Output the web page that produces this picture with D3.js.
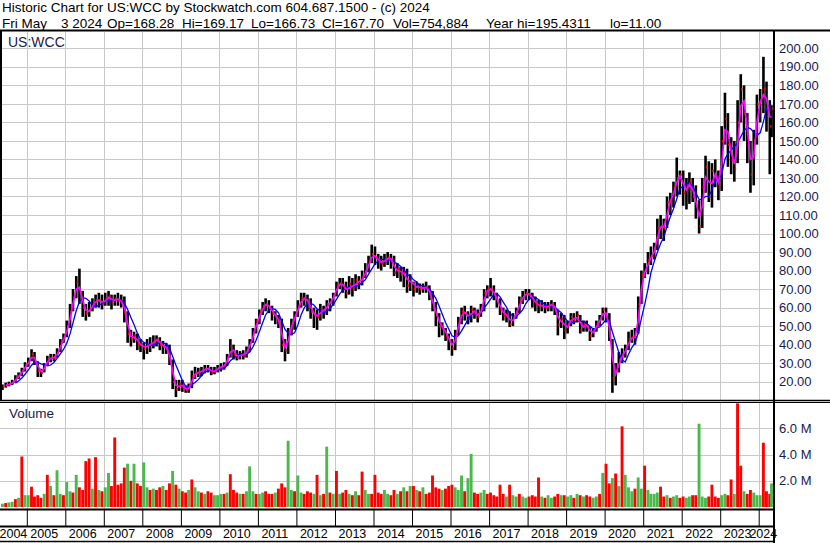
<!DOCTYPE html>
<html>
<head>
<meta charset="utf-8">
<script src="https://cdn.jsdelivr.net/npm/d3@7"></script>
<style>
body { margin: 0; background: #fff; }
svg text { font-family: "Liberation Sans", Arial, sans-serif; }
</style>
</head>
<body>
<div id="chart"></div>
<script>
// monthly bars, May 2004 .. May 2024 (one row per year)
var startYear = 2004, startMonth = 4;

var closes = [
  [17.5, 18.2, 18.8, 19.5, 22.0, 23.5, 26.0, 29.0],
  [31, 35, 31, 26, 25, 29, 32, 33, 33, 36, 41, 44],
  [50, 58, 66, 74, 68, 60, 57, 59, 62, 64, 64, 62],
  [65, 66, 63, 65, 64, 63, 57, 46, 43, 45, 40, 40],
  [38, 40, 40, 42, 43, 40, 39, 38, 31, 20, 16, 19],
  [17, 15.5, 17, 23, 25, 25, 26, 27, 27, 25, 26, 27.5],
  [28, 29, 33, 39, 35, 33, 35, 34, 37, 41, 47, 53],
  [57, 61, 62, 60, 57, 55, 52, 40, 37, 47, 52, 56],
  [61, 65, 65, 63, 58, 56, 55, 59, 58, 62, 63, 67],
  [72, 73, 72, 68, 73, 70, 75, 73, 77, 80, 85, 89],
  [87, 85, 84, 86, 87, 86, 79, 81, 78, 79, 72, 76],
  [70, 72, 70, 71, 71, 67, 60, 56, 50, 49, 45, 42],
  [38, 46, 53, 58, 57, 54, 59, 57, 55, 60, 68, 70],
  [70, 67, 63, 59, 56, 56, 51, 55, 58, 64, 66, 68],
  [67, 64, 62, 61, 61, 60, 61, 62, 59, 51, 54, 48],
  [51, 55, 53, 56, 48, 51, 50, 45, 48, 51, 54, 59],
  [55, 44, 22, 26, 32, 35, 38, 43, 44, 44, 62, 78],
  [80, 86, 88, 92, 103, 104, 103, 117, 118, 125, 130, 132],
  [122, 125, 128, 120, 115, 104, 125, 136, 120, 134, 130, 125],
  [150, 162, 148, 140, 135, 160, 178, 165, 148, 132, 150, 170],
  [172, 178, 168, 158, 167.7]
].flat();

var highs = [
  [18.5, 19.5, 20.0, 21.0, 23.5, 25.0, 27.5, 30.5],
  [33, 37.5, 36, 31, 27, 30, 34, 35, 35, 38, 43, 46],
  [53, 62, 70, 77, 81, 69, 62, 63, 65, 67, 68, 67],
  [68, 69, 67, 67, 68, 67, 66, 58, 48, 47, 46, 43],
  [41, 43, 44, 45, 45, 44, 42, 41, 40, 32, 21, 21],
  [21, 18, 19, 26, 28, 27.5, 28, 29, 29, 28, 28, 29],
  [30, 30.5, 35, 43, 40, 37, 36.5, 37, 39, 43, 49, 54],
  [59, 63, 65, 64, 61, 58, 56, 54, 43, 49, 54, 58],
  [64, 68, 68, 67, 65, 60, 59, 62, 61, 64, 65, 68],
  [74, 76, 76, 74, 77, 76, 78, 77, 80, 84, 88, 94],
  [93, 89, 88, 89, 90, 89, 88, 84, 82, 82, 81, 78],
  [74, 74, 73, 73, 74, 72, 69, 63, 57, 52, 49, 46],
  [43, 48, 55, 60, 61, 58, 61, 60, 59, 62, 70, 72],
  [76, 72, 68, 65, 60, 59, 58, 57, 60, 66, 69, 70],
  [70, 68, 66, 64, 64, 63, 63, 64, 63, 59, 57, 56],
  [53, 57, 57, 58, 56, 53, 53, 50, 49, 53, 56, 60],
  [60, 57, 43, 30, 36, 38, 40, 47, 48, 49, 66, 80],
  [84, 90, 93, 95, 108, 110, 108, 120, 122, 128, 141, 134],
  [134, 130, 133, 130, 126, 118, 130, 142, 139, 138, 140, 134],
  [158, 176, 165, 152, 150, 172, 186, 180, 165, 150, 156, 175],
  [178, 195.4, 182, 172, 169.2]
].flat();

var lows = [
  [15.5, 16.8, 17.5, 18.2, 19.5, 21.5, 23.0, 25.5],
  [28, 31, 29, 22.5, 22.5, 25, 29, 30.5, 31, 33, 36, 41],
  [44, 49, 58, 65, 62, 55, 53, 55, 58, 60, 60, 59],
  [61, 61, 59, 61, 61, 60, 52, 41, 39, 41, 37, 36],
  [32, 35, 36, 38, 39, 37, 35, 35, 29, 16, 11.7, 15],
  [14.5, 14, 14, 16.5, 21.5, 22.5, 23, 24.5, 25, 23.5, 24, 25],
  [25.5, 26.5, 28.5, 33, 32, 31.5, 32, 32, 33, 36, 41, 46],
  [51, 56, 58, 57, 53, 51, 49, 36, 31, 35, 45, 48],
  [55, 60, 61, 58, 54, 49, 48, 53, 54, 56, 58, 61],
  [66, 70, 68, 65, 67, 66, 69, 70, 72, 76, 79, 84],
  [83, 81, 80, 82, 83, 81, 77, 76, 74, 71, 68, 69],
  [66, 68, 67, 68, 68, 64, 58, 50, 44, 45, 42, 37],
  [34, 37, 45, 51, 53, 51, 52, 54, 52, 55, 58, 65],
  [66, 64, 60, 56, 53, 52, 49.5, 50, 54, 57, 62, 64],
  [64, 60, 58, 57, 58, 57, 58, 58, 56, 45, 49, 43],
  [46, 50, 51, 52, 46, 47, 47, 42, 44, 47, 50, 53],
  [52, 42, 14, 18, 25, 30, 33, 37, 41, 40, 46, 62],
  [76, 78, 83, 86, 91, 97, 96, 103, 110, 114, 120, 121],
  [115, 113, 116, 117, 108, 100, 103, 122, 117, 114, 125, 118],
  [123, 148, 136, 132, 128, 138, 160, 150, 138, 122, 126, 148],
  [160, 165, 155, 132, 152]
].flat();

// volume in millions
var volumes = [
  [0.25, 0.3, 0.35, 0.4, 0.6, 0.7, 3.85, 0.9],
  [0.9, 1.55, 0.8, 0.9, 0.7, 1.0, 2.45, 1.6, 0.9, 2.8, 1.0, 0.9],
  [1.9, 1.2, 1.1, 2.45, 1.5, 1.3, 3.5, 3.7, 1.4, 3.8, 1.3, 1.2],
  [1.5, 2.6, 1.6, 5.3, 1.7, 1.8, 3.0, 3.3, 2.0, 3.3, 1.8, 1.6],
  [3.4, 1.5, 1.3, 1.4, 1.3, 1.5, 1.6, 1.3, 1.8, 2.75, 1.7, 1.4],
  [1.2, 1.1, 1.3, 2.1, 1.5, 1.2, 1.1, 1.0, 1.2, 1.1, 0.9, 0.9],
  [1.0, 1.0, 1.1, 2.5, 1.3, 1.1, 1.0, 1.0, 1.2, 3.1, 1.2, 1.0],
  [1.0, 1.1, 1.2, 1.0, 1.0, 1.1, 1.4, 1.8, 1.5, 5.05, 1.3, 1.2],
  [2.4, 1.1, 1.0, 1.2, 1.1, 1.0, 2.45, 0.9, 1.0, 4.6, 1.1, 1.0],
  [2.75, 1.0, 1.1, 1.3, 1.0, 0.9, 1.2, 0.9, 2.7, 1.3, 1.0, 1.0],
  [2.45, 1.1, 1.0, 1.3, 1.0, 0.9, 1.3, 1.0, 1.2, 1.5, 1.2, 1.6],
  [1.6, 1.3, 1.2, 1.5, 1.0, 1.1, 2.4, 1.5, 1.4, 1.3, 1.4, 1.6],
  [1.7, 1.5, 1.3, 2.4, 1.2, 2.2, 4.05, 1.1, 1.0, 1.1, 1.3, 1.0],
  [1.1, 0.9, 0.8, 1.7, 1.0, 0.8, 1.7, 0.9, 0.8, 1.0, 0.8, 0.7],
  [0.8, 0.9, 0.8, 2.25, 0.8, 0.7, 0.9, 0.7, 0.8, 1.0, 0.9, 0.9],
  [0.8, 0.9, 0.7, 1.0, 0.9, 0.8, 0.9, 0.8, 0.7, 0.8, 1.0, 2.6],
  [3.3, 1.8, 2.2, 2.55, 1.6, 6.15, 2.45, 1.5, 1.2, 1.4, 2.25, 1.4],
  [3.15, 1.3, 1.0, 1.0, 1.1, 1.55, 0.8, 0.9, 0.7, 0.8, 0.9, 0.7],
  [0.8, 0.7, 0.8, 0.9, 0.9, 6.35, 0.8, 0.7, 0.8, 1.7, 0.8, 0.7],
  [0.9, 1.0, 0.9, 2.1, 1.0, 7.9, 3.15, 1.2, 1.0, 1.3, 1.1, 0.9],
  [0.9, 4.9, 1.2, 1.0, 1.8]
].flat();

// g = up (green), r = down (red)
var volSide = [
  "grggrgrg", "grrrrgrgrggr", "ggrgrrrrgrgr", "ggrrrrrgrgrr", "ggrgrrgrrgrg",
  "rrgrggrgrrgg", "grgrrrgrgggr", "ggrrrgrrrggr", "ggrrrgrgrgrg", "rgrrgrgrrggr",
  "rrrggrrgrgrg", "rgrgrrrrrgrr", "rgggrggrrggr", "rrrrrgrggrgg", "rrrrgrggrrgr",
  "ggrgrgrrggrg", "rrgrgrgggrgg", "rggggrrgrggr", "rggrrgggrrrr", "ggrrgrrgrrgg",
  "grrrg"
].join('');

var years = [2004, 2005, 2006, 2007, 2008, 2009, 2010, 2011, 2012, 2013, 2014,
  2015, 2016, 2017, 2018, 2019, 2020, 2021, 2022, 2023, 2024];
var priceTicks = [20, 30, 40, 50, 60, 70, 80, 90, 100, 110, 120, 130, 140, 150,
  160, 170, 180, 190, 200];
var volTicks = [2, 4, 6];

var title = "Historic Chart for US:WCC by Stockwatch.com 604.687.1500 - (c) 2024";
var quoteBits = ["Fri May", "3 2024", "Op=168.28", "Hi=169.17", "Lo=166.73",
  "Cl=167.70", "Vol=754,884", "Year hi=195.4311", "lo=11.00"];
var quoteX = [2, 61, 107, 182, 251, 322, 393, 486, 610];

var width = 830, height = 543;
var plotLeft = 2, plotRight = 773;
var priceTop = 32, priceBottom = 400, volTop = 403, volBottom = 509;

var svg = d3.select('#chart')
  .append('svg')
  .attr('width', width)
  .attr('height', height);

svg.append('rect').attr('width', width).attr('height', height).attr('fill', '#fff');

var dates = closes.map((c, i) => new Date(startYear, startMonth + i, 15));
dates[dates.length - 1] = new Date(2024, 4, 2);

var xScale = d3.scaleTime()
  .domain([new Date(2004, 0, 1), new Date(2024, 0, 1)])
  .range([-11.8, 758.7]);
var yPrice = d3.scaleLinear().domain([10, 200]).range([400.2, 48.3]);
var yVol = d3.scaleLinear().domain([0, 6]).range([507, 428.3]);

var defs = svg.append('defs');
defs.append('clipPath').attr('id', 'clipP')
  .append('rect').attr('x', plotLeft).attr('y', priceTop)
  .attr('width', plotRight - plotLeft).attr('height', priceBottom - priceTop);
defs.append('clipPath').attr('id', 'clipV')
  .append('rect').attr('x', 0).attr('y', volTop)
  .attr('width', plotRight).attr('height', volBottom - volTop);

var yearDates = years.slice(1).map(y => new Date(y, 0, 1));
var grid = '#c8c8c8';

// grids
svg.append('g').selectAll('line').data(priceTicks).enter().append('line')
  .attr('x1', plotLeft).attr('x2', plotRight)
  .attr('y1', d => Math.round(yPrice(d)) + 0.5).attr('y2', d => Math.round(yPrice(d)) + 0.5)
  .attr('stroke', grid);
svg.append('g').selectAll('line').data(volTicks).enter().append('line')
  .attr('x1', 0).attr('x2', plotRight)
  .attr('y1', d => Math.round(yVol(d)) + 0.5).attr('y2', d => Math.round(yVol(d)) + 0.5)
  .attr('stroke', grid);
[[priceTop, priceBottom], [volTop, volBottom]].forEach(r => {
  svg.append('g').selectAll('line').data(yearDates).enter().append('line')
    .attr('x1', d => Math.round(xScale(d)) + 0.5).attr('x2', d => Math.round(xScale(d)) + 0.5)
    .attr('y1', r[0]).attr('y2', r[1])
    .attr('stroke', grid);
});

// price bars
var pg = svg.append('g').attr('clip-path', 'url(#clipP)');
pg.selectAll('rect.bar').data(closes).enter().append('rect')
  .attr('class', 'bar')
  .attr('x', (d, i) => xScale(dates[i]) - 1.3)
  .attr('width', 2.6)
  .attr('y', (d, i) => yPrice(highs[i]))
  .attr('height', (d, i) => yPrice(lows[i]) - yPrice(highs[i]))
  .attr('fill', '#000');
pg.selectAll('rect.cl').data(closes).enter().append('rect')
  .attr('class', 'cl')
  .attr('x', (d, i) => xScale(dates[i]) + 0.3)
  .attr('width', 1.5)
  .attr('y', d => yPrice(d) - 1)
  .attr('height', 2.5)
  .attr('fill', '#ff0000');

// moving averages
var ma = n => closes.map((c, i) => i < n - 1 ? null : d3.mean(closes.slice(i - n + 1, i + 1)));
var line = d3.line()
  .defined(d => d != null)
  .x((d, i) => xScale(dates[i]))
  .y(d => yPrice(d));
pg.append('path').datum(ma(5)).attr('d', line)
  .attr('fill', 'none').attr('stroke', '#0000ff').attr('stroke-width', 1.3);
pg.append('path').datum(ma(2)).attr('d', line)
  .attr('fill', 'none').attr('stroke', '#ff00ff').attr('stroke-width', 1.7);

// volume bars
svg.append('g').attr('clip-path', 'url(#clipV)')
  .selectAll('rect').data(volumes).enter().append('rect')
  .attr('x', (d, i) => xScale(dates[i]) - 1.5)
  .attr('width', 2.9)
  .attr('y', d => yVol(d))
  .attr('height', d => yVol(0) - yVol(d))
  .attr('fill', (d, i) => volSide[i] === 'g' ? '#4cb84c' : '#ff0000');

// frames
var frame = (x1, y1, x2, y2, w) => svg.append('line')
  .attr('x1', x1).attr('y1', y1).attr('x2', x2).attr('y2', y2)
  .attr('stroke', '#000').attr('stroke-width', w || 1);
frame(0, 30.5, width, 30.5, 2);
frame(1, 31, 1, priceBottom, 2);
frame(0, 400.5, width, 400.5, 1.5);
frame(0, 402.5, width, 402.5, 1);
frame(0, 509.5, plotRight, 509.5, 2);
frame(0, 526.5, plotRight, 526.5, 2);
frame(0, 541.5, plotRight, 541.5, 1.5);
frame(plotRight + 1, 31, plotRight + 1, height, 2);

// axes
var labelColor = '#1a1a4e';
var pAxis = svg.append('g')
  .attr('transform', `translate(${plotRight + 2},0)`)
  .call(d3.axisRight(yPrice).tickValues(priceTicks).tickSize(0).tickPadding(4)
    .tickFormat(d3.format('.2f')));
var vAxis = svg.append('g')
  .attr('transform', `translate(${plotRight + 2},0)`)
  .call(d3.axisRight(yVol).tickValues(volTicks).tickSize(0).tickPadding(4)
    .tickFormat(d => d.toFixed(1) + ' M'));
[pAxis, vAxis].forEach(a => {
  a.select('.domain').remove();
  a.selectAll('text').attr('fill', labelColor).style('font-size', '13px');
});

var xAxis = svg.append('g')
  .attr('transform', `translate(0,${volBottom})`)
  .call(d3.axisBottom(xScale).tickValues(years.map(y => new Date(y, 0, 1)))
    .tickSize(17).tickPadding(3.5).tickFormat(d3.timeFormat('%Y')));
xAxis.select('.domain').remove();
xAxis.selectAll('.tick line').attr('stroke', '#000');
xAxis.selectAll('text')
  .attr('fill', '#000')
  .style('font-size', '12.5px')
  .attr('text-anchor', (d, i) => i === years.length - 1 ? 'end' : 'start')
  .attr('x', (d, i) => i === 0 ? 10.8 : (i === years.length - 1 ? 18 : 3));

// header and labels
svg.append('text').attr('x', 2).attr('y', 12).style('font-size', '13.5px').text(title);
svg.append('g').selectAll('text').data(quoteBits).enter().append('text')
  .attr('x', (d, i) => quoteX[i]).attr('y', 27.5)
  .style('font-size', '13.5px').text(d => d);
svg.append('text').attr('x', 8).attr('y', 47).style('font-size', '14px').attr('fill', labelColor).text('US:WCC');
svg.append('text').attr('x', 9).attr('y', 418).style('font-size', '13.5px').attr('fill', labelColor).text('Volume');
</script>
</body>
</html>
